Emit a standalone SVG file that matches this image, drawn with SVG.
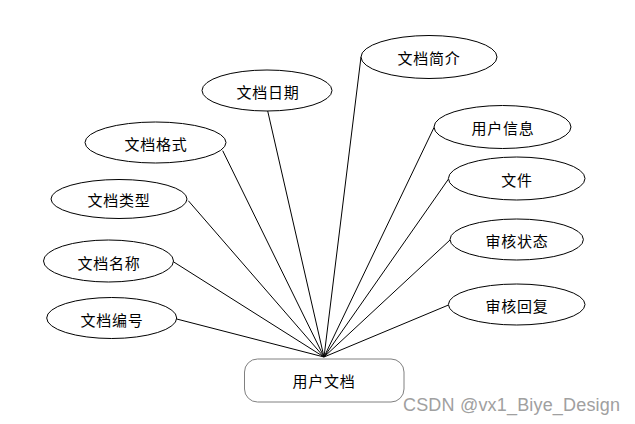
<svg xmlns="http://www.w3.org/2000/svg" width="635" height="424" viewBox="0 0 635 424">
<style>
.attr ellipse{fill:#fff;stroke:#000;stroke-width:1}
text{font-family:"Noto Sans CJK SC","Liberation Sans",sans-serif;font-size:15px;letter-spacing:0.8px;fill:#000;text-anchor:middle;dominant-baseline:central}
.conn line{stroke:#000;stroke-width:1}
.wm{font-family:"Liberation Sans",sans-serif;font-size:18px;letter-spacing:0;fill:#a0a0a0;text-anchor:start;dominant-baseline:alphabetic}
</style>
<rect width="635" height="424" fill="#fff"/>
<g id="connectors" class="conn">
<line x1="267.7" y1="111" x2="324" y2="357"/>
<line x1="222.7" y1="150.7" x2="324" y2="357"/>
<line x1="188.3" y1="200.7" x2="324" y2="357"/>
<line x1="173.3" y1="261.7" x2="324" y2="357"/>
<line x1="176.7" y1="319" x2="324" y2="357"/>
<line x1="361" y1="57" x2="324" y2="357"/>
<line x1="434" y1="127.5" x2="324" y2="357"/>
<line x1="448.5" y1="179" x2="324" y2="357"/>
<line x1="450" y1="240" x2="324" y2="357"/>
<line x1="448.5" y1="305" x2="324" y2="357"/>
</g>
<g id="main">
<rect x="244.5" y="359" width="159.5" height="43" rx="13" ry="13" fill="#fff" stroke="#808080" stroke-width="1"/>
<text x="324" y="380">用户文档</text>
</g>
<g id="n-date" class="attr"><ellipse cx="267" cy="90.5" rx="65" ry="20.5"/><text x="268" y="91">文档日期</text></g>
<g id="n-format" class="attr"><ellipse cx="155.5" cy="142.5" rx="70.5" ry="20.5"/><text x="156" y="143">文档格式</text></g>
<g id="n-type" class="attr"><ellipse cx="119" cy="199" rx="68" ry="19.5"/><text x="119" y="199">文档类型</text></g>
<g id="n-name" class="attr"><ellipse cx="108.5" cy="261" rx="65" ry="21"/><text x="109" y="262">文档名称</text></g>
<g id="n-number" class="attr"><ellipse cx="111.7" cy="318" rx="65" ry="20.5"/><text x="112" y="319">文档编号</text></g>
<g id="n-intro" class="attr"><ellipse cx="429" cy="57" rx="68" ry="21.5"/><text x="429" y="57">文档简介</text></g>
<g id="n-user" class="attr"><ellipse cx="502.5" cy="127" rx="68.5" ry="21.5"/><text x="503" y="127">用户信息</text></g>
<g id="n-file" class="attr"><ellipse cx="516.7" cy="178.5" rx="68.3" ry="21.5"/><text x="517" y="179">文件</text></g>
<g id="n-status" class="attr"><ellipse cx="516.7" cy="239.5" rx="66.7" ry="20.5"/><text x="517" y="240">审核状态</text></g>
<g id="n-reply" class="attr"><ellipse cx="516.7" cy="304.5" rx="68.3" ry="20.5"/><text x="517" y="305">审核回复</text></g>
<text class="wm" x="403" y="411" textLength="217">CSDN @vx1_Biye_Design</text>
</svg>
